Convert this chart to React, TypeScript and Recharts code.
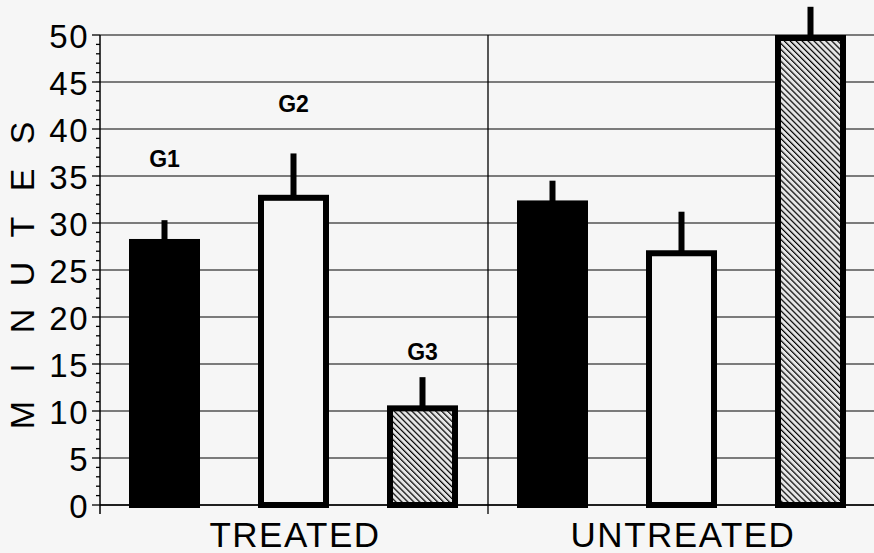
import React from 'react';
import { BarChart, Bar, XAxis, YAxis, CartesianGrid } from 'recharts';

// values (minutes)
const groups = ['TREATED', 'UNTREATED'];
const g1Values = [28.3, 32.4];
const g2Values = [33.0, 27.1];
const g3Values = [10.6, 50.0];
// upper end of each error bar
const g1Upper = [30.3, 34.5];
const g2Upper = [37.4, 31.2];
const g3Upper = [13.6, 53.0];
// where the group labels sit (in minutes), only above TREATED
const groupLabels = ['G1', 'G2', 'G3'];
const groupLabelAt = [36.8, 42.7, 16.3];

const majorTicks = [0, 5, 10, 15, 20, 25, 30, 35, 40, 45, 50];
const allTicks = Array.from({ length: 51 }, (_, i) => i);
const axisLetters = ['M', 'I', 'N', 'U', 'T', 'E', 'S'];

const TOP = 35;
const FONT = '"Liberation Sans", Arial, Helvetica, sans-serif';
const BG = '#f6f6f6';

const data = groups.map((name, i) => ({
  name,
  g1: g1Values[i],
  g2: g2Values[i],
  g3: g3Values[i],
  g1Err: g1Upper[i],
  g2Err: g2Upper[i],
  g3Err: g3Upper[i],
}));

function makeShape(key: string, kind: 'solid' | 'open' | 'hatch', labelIdx: number) {
  return function BarShape(props: any) {
    const { x, y, width, height, payload, index } = props;
    const v = payload[key];
    const perUnit = v ? height / v : 0;
    const errTop = y - (payload[key + 'Err'] - v) * perUnit;
    const sw = 6;
    const cx = x + width / 2;
    const pid = `hatch-${key}-${index}`;
    const fill = kind === 'solid' ? '#000' : kind === 'open' ? BG : `url(#${pid})`;
    return (
      <g>
        {kind === 'hatch' && (
          <defs>
            <pattern id={pid} patternUnits="userSpaceOnUse" width={4.2} height={4.2} patternTransform="rotate(-45)">
              <rect width={4.2} height={4.2} fill="#e6e6e6" />
              <line x1={0} y1={0} x2={0} y2={4.2} stroke="#000" strokeWidth={2.4} />
            </pattern>
          </defs>
        )}
        <rect x={cx - 3} y={errTop} width={6} height={y - errTop + 3} fill="#000" />
        <rect
          x={x + sw / 2}
          y={y + sw / 2}
          width={width - sw}
          height={height - sw / 2}
          fill={fill}
          stroke="#000"
          strokeWidth={sw}
        />
        {index === 0 && (
          <text
            x={cx}
            y={y + height - groupLabelAt[labelIdx] * perUnit}
            textAnchor="middle"
            dominantBaseline="central"
            fontFamily={FONT}
            fontWeight="bold"
            fontSize={23}
            fill="#000"
          >
            {groupLabels[labelIdx]}
          </text>
        )}
      </g>
    );
  };
}

function YTick(props: any) {
  const { x, y, payload } = props;
  const v = payload.value;
  const major = v % 5 === 0;
  return (
    <g>
      <line x1={x - (major ? 8 : 4)} x2={x} y1={y} y2={y} stroke="#000" strokeWidth={1.3} />
      {v === 0 && <line x1={x} x2={x} y1={y} y2={y + 9} stroke="#000" strokeWidth={1.5} />}
      {major && (
        <text
          x={x - 11}
          y={y + 1}
          textAnchor="end"
          dominantBaseline="central"
          fontFamily={FONT}
          fontSize={33}
          letterSpacing={1.5}
          fill="#000"
        >
          {v}
        </text>
      )}
    </g>
  );
}

function XTick(props: any) {
  const { x, y, payload, index } = props;
  const off = payload.offset;
  return (
    <g>
      {index > 0 && typeof off === 'number' && (
        <line x1={x - off} x2={x - off} y1={TOP} y2={y + 9} stroke="#000" strokeWidth={1.3} />
      )}
      <text
        x={x + 1}
        y={y + 29}
        textAnchor="middle"
        dominantBaseline="central"
        fontFamily={FONT}
        fontSize={35}
        letterSpacing={1.5}
        fill="#000"
      >
        {payload.value}
      </text>
    </g>
  );
}

function YTitle(props: any) {
  const { viewBox } = props;
  const cy = viewBox.y + viewBox.height / 2 + 4;
  const cx = 22;
  const step = 47;
  return (
    <g>
      {axisLetters.map((ch, i) => {
        const ly = cy + (3 - i) * step;
        return (
          <text
            key={i}
            x={cx}
            y={ly}
            transform={`rotate(-90 ${cx} ${ly})`}
            textAnchor="middle"
            dominantBaseline="central"
            fontFamily={FONT}
            fontSize={34}
            fill="#000"
          >
            {ch}
          </text>
        );
      })}
    </g>
  );
}

export default function App() {
  return (
    <div
      style={{
        position: 'absolute',
        left: 0,
        top: 0,
        width: 874,
        height: 553,
        overflow: 'hidden',
        background: BG,
      }}
    >
      <BarChart
        width={876}
        height={553}
        data={data}
        margin={{ top: TOP, right: 0, left: 0, bottom: 0 }}
        barCategoryGap={29}
        barGap={58}
      >
        <CartesianGrid horizontalValues={majorTicks} vertical={false} stroke="#000" strokeWidth={1.2} />
        <XAxis
          dataKey="name"
          height={48}
          tickSize={0}
          tickMargin={0}
          tickLine={false}
          axisLine={{ stroke: '#000', strokeWidth: 1.5 }}
          tick={<XTick />}
        />
        <YAxis
          width={100}
          domain={[0, 50]}
          ticks={allTicks}
          interval={0}
          tickSize={0}
          tickMargin={0}
          tickLine={false}
          axisLine={{ stroke: '#000', strokeWidth: 1.5 }}
          tick={<YTick />}
          label={<YTitle />}
        />
        <Bar dataKey="g1" isAnimationActive={false} shape={makeShape('g1', 'solid', 0)} />
        <Bar dataKey="g2" isAnimationActive={false} shape={makeShape('g2', 'open', 1)} />
        <Bar dataKey="g3" isAnimationActive={false} shape={makeShape('g3', 'hatch', 2)} />
      </BarChart>
    </div>
  );
}
